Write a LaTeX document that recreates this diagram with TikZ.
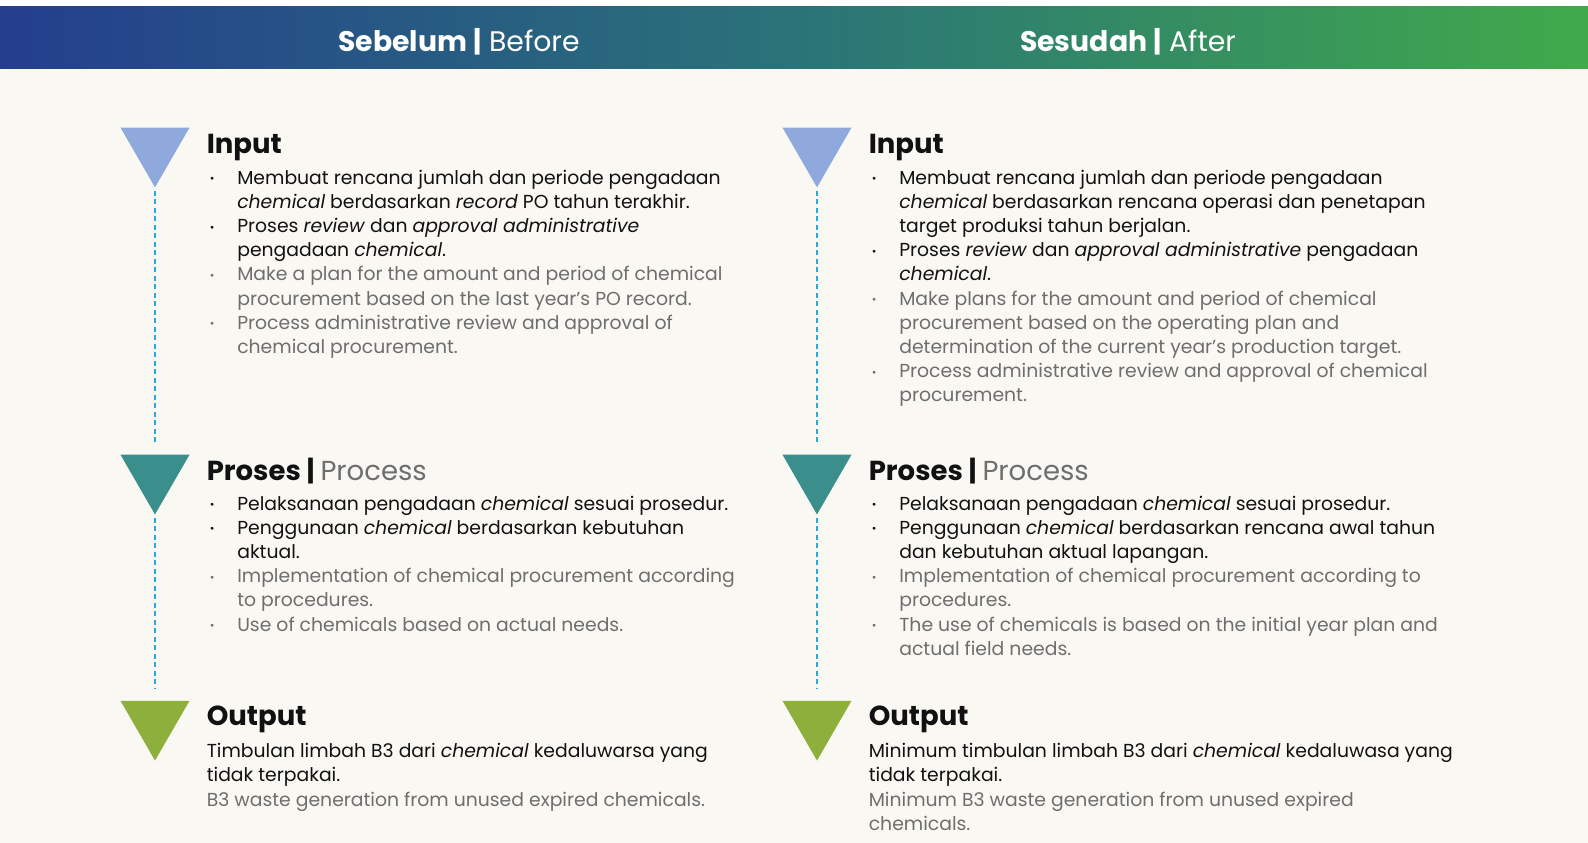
\documentclass[tikz,border=0pt]{standalone}
\usepackage{fontspec}
\setmainfont{Poppins}
\usepackage{graphicx}
\usetikzlibrary{shapes.geometric}
\definecolor{cream}{RGB}{250,248,242}
\definecolor{hdleft}{RGB}{36,62,142}
\definecolor{hdmid}{RGB}{42,115,120}
\definecolor{hdright}{RGB}{64,170,74}
\definecolor{inblue}{RGB}{143,169,220}
\definecolor{procteal}{RGB}{58,143,140}
\definecolor{outgreen}{RGB}{141,176,60}
\definecolor{dashblue}{RGB}{41,169,225}
\definecolor{ink}{RGB}{17,17,17}
\definecolor{mute}{RGB}{110,110,110}
\newcommand\bk[1]{\strut\makebox[30.5pt][l]{\hspace{3pt}\raisebox{1.5pt}{\scalebox{.6}{\textbullet}}}#1}
\newcommand\ct[1]{\strut\hspace*{30.5pt}#1}
\newcommand\gb[1]{{\color{mute}\bk{#1}}}
\newcommand\gc[1]{{\color{mute}\ct{#1}}}

\begin{document}
\begin{tikzpicture}[x=1pt,y=-1pt,
  tri/.style={regular polygon,regular polygon sides=3,shape border rotate=180,
    minimum size=79.7pt,inner sep=0pt,fill=#1},
  link/.style={dashblue,line width=1.6pt,dash pattern=on 5pt off 3.5pt,
    shorten <=3pt,shorten >=12pt},
  ttl/.style={anchor=base west,inner sep=0pt,text=ink,
    font=\fontsize{27.5}{30}\selectfont\bfseries},
  body/.style={anchor=north west,inner sep=0pt,align=left,text=ink,
    font=\fontsize{18.8}{24.2}\selectfont},
  hd/.style={anchor=base,inner sep=0pt,text=white,
    font=\fontsize{28.3}{30}\selectfont}]
  \useasboundingbox (0,0) rectangle (1588,843);
  \fill[white] (0,0) rectangle (1588,843);
  \fill[cream] (0,69) rectangle (1588,843);
  \shade[left color=hdleft,right color=hdright,middle color=hdmid] (0,7) rectangle (1588,69);
  \node[hd] (before) at (459,51.5) {\textbf{Sebelum |} Before};
  \node[hd] (after) at (1128,51.5) {\textbf{Sesudah |} After};

  \foreach \x/\s in {0/L,662/R}{
    \node[tri=inblue] (in\s) at (155+\x,147.5) {};
    \node[tri=procteal] (proc\s) at (155+\x,474.6) {};
    \node[tri=outgreen] (out\s) at (155+\x,720.7) {};
    \draw[link] (in\s.south) -- (proc\s.north);
    \draw[link] (proc\s.south) -- (out\s.north);
    \node[ttl] (inT\s) at (206.6+\x,153.5) {Input};
    \node[ttl] (procT\s) at (206.6+\x,480.5) {Proses | {\mdseries\color{mute}Process}};
    \node[ttl] (outT\s) at (206.6+\x,725.5) {Output};
  }

  % sebelum
  \node[body] (inBL) at (206.6,167) {%
    \bk{Membuat rencana jumlah dan periode pengadaan}\\
    \ct{\textit{chemical} berdasarkan \textit{record} PO tahun terakhir.}\\
    \bk{Proses \textit{review} dan \textit{approval administrative}}\\
    \ct{pengadaan \textit{chemical}.}\\
    \gb{Make a plan for the amount and period of chemical}\\
    \gc{procurement based on the last year's PO record.}\\
    \gb{Process administrative review and approval of}\\
    \gc{chemical procurement.}};
  \node[body] (procBL) at (206.6,493) {%
    \bk{Pelaksanaan pengadaan \textit{chemical} sesuai prosedur.}\\
    \bk{Penggunaan \textit{chemical} berdasarkan kebutuhan}\\
    \ct{aktual.}\\
    \gb{Implementation of chemical procurement according}\\
    \gc{to procedures.}\\
    \gb{Use of chemicals based on actual needs.}};
  \node[body] (outBL) at (206.6,740.5) {%
    \strut Timbulan limbah B3 dari \textit{chemical} kedaluwarsa yang\\
    \strut tidak terpakai.\\
    {\color{mute}\strut B3 waste generation from unused expired chemicals.}};

  % sesudah
  \node[body] (inBR) at (868.6,167) {%
    \bk{Membuat rencana jumlah dan periode pengadaan}\\
    \ct{\textit{chemical} berdasarkan rencana operasi dan penetapan}\\
    \ct{target produksi tahun berjalan.}\\
    \bk{Proses \textit{review} dan \textit{approval administrative} pengadaan}\\
    \ct{\textit{chemical}.}\\
    \gb{Make plans for the amount and period of chemical}\\
    \gc{procurement based on the operating plan and}\\
    \gc{determination of the current year's production target.}\\
    \gb{Process administrative review and approval of chemical}\\
    \gc{procurement.}};
  \node[body] (procBR) at (868.6,493) {%
    \bk{Pelaksanaan pengadaan \textit{chemical} sesuai prosedur.}\\
    \bk{Penggunaan \textit{chemical} berdasarkan rencana awal tahun}\\
    \ct{dan kebutuhan aktual lapangan.}\\
    \gb{Implementation of chemical procurement according to}\\
    \gc{procedures.}\\
    \gb{The use of chemicals is based on the initial year plan and}\\
    \gc{actual field needs.}};
  \node[body] (outBR) at (868.6,740.5) {%
    \strut Minimum timbulan limbah B3 dari \textit{chemical} kedaluwasa yang\\
    \strut tidak terpakai.\\
    {\color{mute}\strut Minimum B3 waste generation from unused expired}\\
    {\color{mute}\strut chemicals.}};
\end{tikzpicture}
\end{document}
